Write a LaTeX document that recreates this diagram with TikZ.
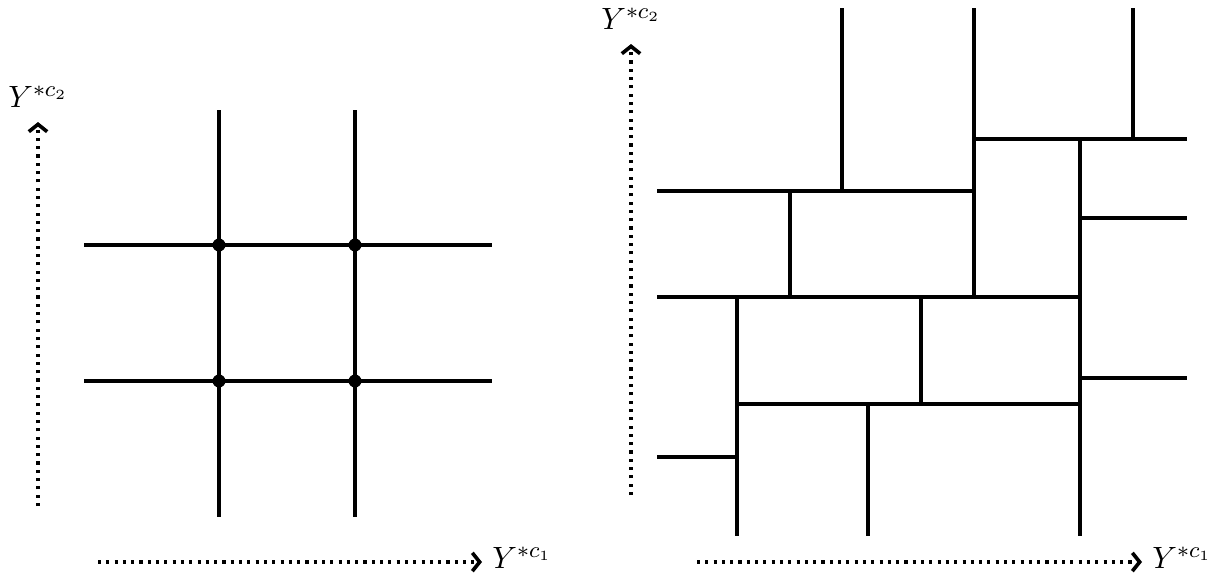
\documentclass[tikz,border=0pt]{standalone}
\usepackage{tikz}
\usepackage{amsmath}
\usetikzlibrary{arrows.meta, positioning}

\begin{document}
\begin{tikzpicture}[
  x=0.0125cm, y=-0.0125cm,
  seg/.style={line width=1.2pt},
  axis/.style={line width=1.1pt, dash pattern=on 1.1pt off 1.85pt},
  lab/.style={font=\fontsize{11}{13}\selectfont, inner sep=2pt},
  >={Straight Barb[length=2.6pt, width=6.5pt, line width=1.3pt]}
]
\useasboundingbox (0,0) rectangle (1214,574);

% left: product grid
\draw[seg] (219,110) -- (219,517);
\draw[seg] (355,110) -- (355,517);
\draw[seg] (84,245) -- (492,245);
\draw[seg] (84,381) -- (492,381);
\fill (219,245) circle (2.3pt);
\fill (355,245) circle (2.3pt);
\fill (219,381) circle (2.3pt);
\fill (355,381) circle (2.3pt);

\coordinate (v0) at (38,506);
\coordinate (v1) at (38,122);
\coordinate (h0) at (98,562);
\coordinate (h1) at (482,562);
\draw[axis, ->] (v0) -- (v1);
\draw[axis, ->] (h0) -- (h1);
\node[lab, above=3pt of v1] (ylab) {$Y^{*c_2}$};
\node[lab, right=1.5pt of h1, yshift=1.5pt] (xlab) {$Y^{*c_1}$};

% right: staggered partition
\draw[seg] (657,191) -- (974,191);
\draw[seg] (974,139) -- (1187,139);
\draw[seg] (1080,218) -- (1187,218);
\draw[seg] (657,297) -- (1080,297);
\draw[seg] (1080,378) -- (1187,378);
\draw[seg] (737,404) -- (1080,404);
\draw[seg] (657,457) -- (737,457);

\draw[seg] (842,8) -- (842,191);
\draw[seg] (974,8) -- (974,297);
\draw[seg] (1133,8) -- (1133,139);
\draw[seg] (790,191) -- (790,297);
\draw[seg] (1080,139) -- (1080,536);
\draw[seg] (737,297) -- (737,536);
\draw[seg] (921,297) -- (921,404);
\draw[seg] (868,404) -- (868,536);

\coordinate (rv0) at (631,495);
\coordinate (rv1) at (631,44);
\coordinate (rh0) at (697,562);
\coordinate (rh1) at (1142,562);
\draw[axis, ->] (rv0) -- (rv1);
\draw[axis, ->] (rh0) -- (rh1);
\node[lab, above=3pt of rv1] (rylab) {$Y^{*c_2}$};
\node[lab, right=1.5pt of rh1, yshift=1.5pt] (rxlab) {$Y^{*c_1}$};
\end{tikzpicture}
\end{document}
